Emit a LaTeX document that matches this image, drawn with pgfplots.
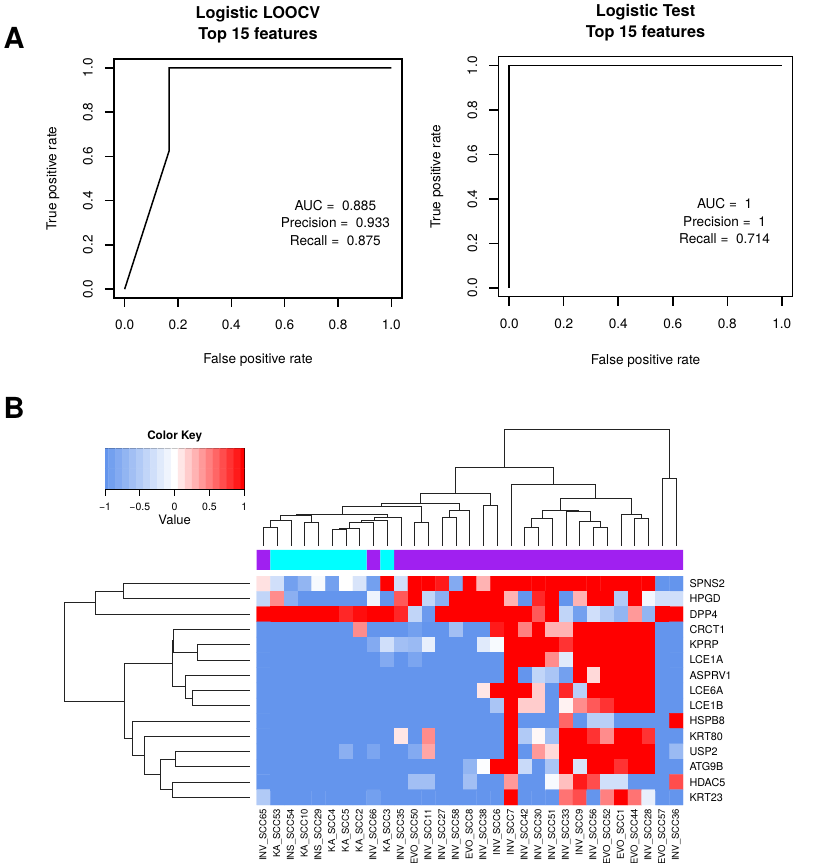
\documentclass[border=0pt]{standalone}
\usepackage{fontspec}
\setmainfont{TeX Gyre Heros}
\usepackage{pgfplots}
\pgfplotsset{compat=1.18}
\definecolor{rpurple}{RGB}{160,32,240}
\definecolor{rcyan}{RGB}{0,255,255}
\definecolor{dend}{RGB}{35,35,35}
\newcommand\fs[2]{\fontsize{#1}{#2}\selectfont}
\pgfplotsset{
  /pgf/number format/assume math mode=true,
  rocaxis/.style={
    scale only axis, anchor=south west, clip=false,
    xmin=-0.04, xmax=1.04, ymin=-0.04, ymax=1.04,
    axis line style={line width=1.5pt},
    xtick={0,0.2,0.4,0.6,0.8,1}, ytick={0,0.2,0.4,0.6,0.8,1},
    xticklabels={0.0,0.2,0.4,0.6,0.8,1.0}, yticklabels={0.0,0.2,0.4,0.6,0.8,1.0},
    xtick pos=lower, ytick pos=left, tick align=outside, major tick length=9pt,
    tick style={black, line width=1.5pt},
    tick label style={font=\fs{13.6}{16}},
    xticklabel style={anchor=center, yshift=-18pt},
    yticklabel style={rotate=90, anchor=center, yshift=17pt},
    every axis title/.style={at={(rel axis cs:0.5,1)}, anchor=center, align=center, font=\bfseries\fs{16.3}{21}},
    every axis x label/.style={at={(rel axis cs:0.5,0)}, anchor=center, font=\fs{13.6}{16}},
    every axis y label/.style={at={(rel axis cs:0,0.5)}, anchor=center, rotate=90, font=\fs{13.6}{16}},
  },
  dendro/.style={dend, line width=0.9pt},
}
\begin{document}
\begin{tikzpicture}
\useasboundingbox (0,0) rectangle (815pt,863pt);
% ---------------- Panel A left
\begin{axis}[rocaxis, at={(114pt,565pt)}, width=288pt, height=239pt,
  title={Logistic LOOCV\\Top 15 features}, title style={yshift=34pt},
  xlabel={False positive rate}, xlabel style={yshift=-62pt},
  ylabel={True positive rate}, ylabel style={yshift=61pt}]
\addplot[black, line width=1.5pt] coordinates {(0,0) (0.1667,0.625) (0.1667,1) (1,1)};
\node[align=center, font=\fs{13.6}{17.5}] at (axis cs:0.79,0.30) {AUC = \ 0.885\\Precision = \ 0.933\\Recall = \ 0.875};
\end{axis}
% ---------------- Panel A right
\begin{axis}[rocaxis, at={(498.3pt,566.3pt)}, width=294.4pt, height=240pt,
  title={Logistic Test\\Top 15 features}, title style={yshift=34pt},
  xlabel={False positive rate}, xlabel style={yshift=-64.3pt},
  ylabel={True positive rate}, ylabel style={yshift=61.3pt}]
\addplot[black, line width=1.5pt] coordinates {(0,0) (0,1) (1,1)};
\node[align=center, font=\fs{13.6}{17.5}] at (axis cs:0.79,0.30) {AUC = \ 1\\Precision = \ 1\\Recall = \ 0.714};
\end{axis}
\node[font=\bfseries\fs{29}{30}] at (14pt,825pt) {A};
\node[font=\bfseries\fs{29}{30}] at (14pt,455pt) {B};
% ---------------- Color key
\begin{axis}[scale only axis, anchor=south west, at={(105pt,374pt)}, width=139.3pt, height=40.7pt,
  xmin=-1, xmax=1, ymin=-0.5, ymax=1.5,
  colormap={bwr}{rgb255=(100,149,237) rgb255=(255,255,255) rgb255=(255,0,0)},
  point meta min=-1, point meta max=1,
  axis line style={line width=0.8pt},
  xtick={-1,-0.5,0,0.5,1}, xticklabels={−1,−0.5,0,0.5,1}, ytick=\empty,
  xtick pos=lower, tick align=outside, major tick length=6.7pt, tick style={black, line width=0.8pt},
  xticklabel style={font=\fs{10.5}{12}, anchor=center, yshift=-11pt},
  title={Color Key}, every axis title/.style={at={(rel axis cs:0.5,1)}, anchor=center, font=\bfseries\fs{11.7}{13}, yshift=11.6pt},
  xlabel={Value}, every axis x label/.style={at={(rel axis cs:0.5,0)}, anchor=center, font=\fs{13}{15}, yshift=-31pt}]
\addplot[matrix plot*, mesh/cols=21, point meta=explicit] coordinates {
(-1,0)[-1] (-0.9,0)[-0.9] (-0.8,0)[-0.8] (-0.7,0)[-0.7] (-0.6,0)[-0.6] (-0.5,0)[-0.5] (-0.4,0)[-0.4] (-0.3,0)[-0.3] (-0.2,0)[-0.2] (-0.1,0)[-0.1] (0,0)[0] (0.1,0)[0.1] (0.2,0)[0.2] (0.3,0)[0.3] (0.4,0)[0.4] (0.5,0)[0.5] (0.6,0)[0.6] (0.7,0)[0.7] (0.8,0)[0.8] (0.9,0)[0.9] (1,0)[1]

(-1,1)[-1] (-0.9,1)[-0.9] (-0.8,1)[-0.8] (-0.7,1)[-0.7] (-0.6,1)[-0.6] (-0.5,1)[-0.5] (-0.4,1)[-0.4] (-0.3,1)[-0.3] (-0.2,1)[-0.2] (-0.1,1)[-0.1] (0,1)[0] (0.1,1)[0.1] (0.2,1)[0.2] (0.3,1)[0.3] (0.4,1)[0.4] (0.5,1)[0.5] (0.6,1)[0.6] (0.7,1)[0.7] (0.8,1)[0.8] (0.9,1)[0.9] (1,1)[1]
};
\end{axis}
% ---------------- Column dendrogram
\begin{axis}[scale only axis, anchor=south west, at={(256.7pt,317pt)}, width=426.3pt, height=117pt,
  xmin=0.5, xmax=31.5, ymin=0, ymax=117, hide axis, clip=false]
\addplot[dendro] coordinates {(1,0) (1,18.3) (2,18.3) (2,0)};
\addplot[dendro] coordinates {(1.5,18.3) (1.5,25.3) (3,25.3) (3,0)};
\addplot[dendro] coordinates {(4,0) (4,23.7) (5,23.7) (5,0)};
\addplot[dendro] coordinates {(2.25,25.3) (2.25,30.3) (4.5,30.3) (4.5,23.7)};
\addplot[dendro] coordinates {(6,0) (6,16.7) (7,16.7) (7,0)};
\addplot[dendro] coordinates {(6.5,16.7) (6.5,18) (8,18) (8,0)};
\addplot[dendro] coordinates {(7.25,18) (7.25,23.7) (9,23.7) (9,0)};
\addplot[dendro] coordinates {(8.125,23.7) (8.125,25.3) (10,25.3) (10,0)};
\addplot[dendro] coordinates {(9.0625,25.3) (9.0625,28.7) (11,28.7) (11,0)};
\addplot[dendro] coordinates {(3.375,30.3) (3.375,32) (10.03125,32) (10.03125,28.7)};
\addplot[dendro] coordinates {(12,0) (12,23.7) (13,23.7) (13,0)};
\addplot[dendro] coordinates {(6.703125,32) (6.703125,39.5) (12.5,39.5) (12.5,23.7)};
\addplot[dendro] coordinates {(14,0) (14,28.7) (15,28.7) (15,0)};
\addplot[dendro] coordinates {(14.5,28.7) (14.5,36) (16,36) (16,0)};
\addplot[dendro] coordinates {(9.6015625,39.5) (9.6015625,43) (15.25,43) (15.25,36)};
\addplot[dendro] coordinates {(17,0) (17,40.7) (18,40.7) (18,0)};
\addplot[dendro] coordinates {(12.42578,43) (12.42578,52.5) (17.5,52.5) (17.5,40.7)};
\addplot[dendro] coordinates {(20,0) (20,18.3) (21,18.3) (21,0)};
\addplot[dendro] coordinates {(20.5,18.3) (20.5,27.7) (22,27.7) (22,0)};
\addplot[dendro] coordinates {(25,0) (25,18.3) (26,18.3) (26,0)};
\addplot[dendro] coordinates {(24,0) (24,25) (25.5,25) (25.5,18.3)};
\addplot[dendro] coordinates {(23,0) (23,35) (24.75,35) (24.75,25)};
\addplot[dendro] coordinates {(21.25,27.7) (21.25,36) (23.875,36) (23.875,35)};
\addplot[dendro] coordinates {(28,0) (28,27.7) (29,27.7) (29,0)};
\addplot[dendro] coordinates {(27,0) (27,32) (28.5,32) (28.5,27.7)};
\addplot[dendro] coordinates {(22.5625,36) (22.5625,47.7) (27.75,47.7) (27.75,32)};
\addplot[dendro] coordinates {(19,0) (19,61.7) (25.15625,61.7) (25.15625,47.7)};
\addplot[dendro] coordinates {(14.96289,52.5) (14.96289,78.7) (22.078125,78.7) (22.078125,61.7)};
\addplot[dendro] coordinates {(30,0) (30,67.7) (31,67.7) (31,0)};
\addplot[dendro] coordinates {(18.52051,78.7) (18.52051,117) (30.5,117) (30.5,67.7)};
\end{axis}
% ---------------- Row dendrogram
\begin{axis}[scale only axis, anchor=south west, at={(64pt,58pt)}, width=186pt, height=229pt,
  xmin=0, xmax=186, x dir=reverse, ymin=0.5, ymax=15.5, y dir=reverse, hide axis, clip=false]
\addplot[dendro] coordinates {(0,1) (127,1) (127,2) (0,2)};
\addplot[dendro] coordinates {(127,1.5) (154.3,1.5) (154.3,3) (0,3)};
\addplot[dendro] coordinates {(0,5) (53,5) (53,6) (0,6)};
\addplot[dendro] coordinates {(0,4) (76.7,4) (76.7,5.5) (53,5.5)};
\addplot[dendro] coordinates {(0,8) (57.3,8) (57.3,9) (0,9)};
\addplot[dendro] coordinates {(0,7) (64.7,7) (64.7,8.5) (57.3,8.5)};
\addplot[dendro] coordinates {(76.7,4.75) (77.7,4.75) (77.7,7.75) (64.7,7.75)};
\addplot[dendro] coordinates {(0,12) (75,12) (75,13) (0,13)};
\addplot[dendro] coordinates {(0,14) (78,14) (78,15) (0,15)};
\addplot[dendro] coordinates {(75,12.5) (90,12.5) (90,14.5) (78,14.5)};
\addplot[dendro] coordinates {(0,11) (106,11) (106,13.5) (90,13.5)};
\addplot[dendro] coordinates {(0,10) (117.3,10) (117.3,12.25) (106,12.25)};
\addplot[dendro] coordinates {(77.7,6.25) (125.3,6.25) (125.3,11.125) (117.3,11.125)};
\addplot[dendro] coordinates {(154.3,2.25) (186,2.25) (186,8.6875) (125.3,8.6875)};
\end{axis}
% ---------------- Side colour bar
\begin{axis}[scale only axis, anchor=south west, at={(256.7pt,293pt)}, width=426.3pt, height=20pt,
  xmin=0.5, xmax=31.5, ymin=0, ymax=1, hide axis]
\addplot[ybar, bar width=1, bar shift=0pt, fill=rpurple, draw=none] coordinates {(1,1) (9,1) (11,1) (12,1) (13,1) (14,1) (15,1) (16,1) (17,1) (18,1) (19,1) (20,1) (21,1) (22,1) (23,1) (24,1) (25,1) (26,1) (27,1) (28,1) (29,1) (30,1) (31,1)};
\addplot[ybar, bar width=1, bar shift=0pt, fill=rcyan, draw=none] coordinates {(2,1) (3,1) (4,1) (5,1) (6,1) (7,1) (8,1) (10,1)};
\end{axis}
% ---------------- Heatmap
\begin{axis}[scale only axis, anchor=south west, at={(256.7pt,58pt)}, width=426.3pt, height=229pt,
  xmin=0.5, xmax=31.5, ymin=0.5, ymax=15.5, y dir=reverse,
  colormap={bwr}{rgb255=(100,149,237) rgb255=(255,255,255) rgb255=(255,0,0)},
  point meta min=-1, point meta max=1,
  axis line style={draw=none}, major tick length=0pt, tick style={draw=none},
  xtick={1,...,31}, ytick={1,...,15}, yticklabel pos=right,
  xticklabels={INV\_SCC65,KA\_SCC53,INS\_SCC54,KA\_SCC10,INS\_SCC29,KA\_SCC4,KA\_SCC5,KA\_SCC2,INV\_SCC66,KA\_SCC3,INV\_SCC35,EVO\_SCC50,INV\_SCC11,INV\_SCC27,INV\_SCC58,EVO\_SCC8,INV\_SCC38,INV\_SCC6,INV\_SCC7,INV\_SCC42,INV\_SCC30,INV\_SCC51,INV\_SCC33,INV\_SCC9,INV\_SCC56,EVO\_SCC52,EVO\_SCC1,EVO\_SCC44,INV\_SCC28,EVO\_SCC57,INV\_SCC36},
  yticklabels={SPNS2,HPGD,DPP4,CRCT1,KPRP,LCE1A,ASPRV1,LCE6A,LCE1B,HSPB8,KRT80,USP2,ATG9B,HDAC5,KRT23},
  xticklabel style={rotate=90, anchor=east, font=\fs{9.5}{10}, xshift=-0.5pt},
  yticklabel style={anchor=west, font=\fs{10.8}{12}, xshift=3pt}]
\addplot[matrix plot*, mesh/cols=31, point meta=explicit] coordinates {
(1,1)[0.12] (2,1)[-0.3] (3,1)[-0.9] (4,1)[-0.7] (5,1)[-0.05] (6,1)[-0.9] (7,1)[0] (8,1)[-0.25] (9,1)[-0.9] (10,1)[1] (11,1)[-0.3] (12,1)[1] (13,1)[1] (14,1)[0.9] (15,1)[-0.8] (16,1)[1] (17,1)[0.3] (18,1)[1] (19,1)[1] (20,1)[1] (21,1)[1] (22,1)[1] (23,1)[1] (24,1)[1] (25,1)[1] (26,1)[1] (27,1)[1] (28,1)[1] (29,1)[1] (30,1)[-1] (31,1)[-1]

(1,2)[-0.4] (2,2)[0.45] (3,2)[-0.75] (4,2)[-1] (5,2)[-1] (6,2)[-1] (7,2)[-1] (8,2)[-1] (9,2)[-0.1] (10,2)[-1] (11,2)[0.65] (12,2)[1] (13,2)[-0.4] (14,2)[-0.75] (15,2)[1] (16,2)[1] (17,2)[1] (18,2)[1] (19,2)[0.3] (20,2)[-1] (21,2)[0.85] (22,2)[1] (23,2)[-1] (24,2)[0.3] (25,2)[1] (26,2)[1] (27,2)[-0.5] (28,2)[1] (29,2)[-0.08] (30,2)[-0.3] (31,2)[-0.3]

(1,3)[1] (2,3)[1] (3,3)[1] (4,3)[1] (5,3)[1] (6,3)[1] (7,3)[0.85] (8,3)[0.95] (9,3)[1] (10,3)[1] (11,3)[0.85] (12,3)[-0.4] (13,3)[-0.95] (14,3)[1] (15,3)[1] (16,3)[1] (17,3)[1] (18,3)[1] (19,3)[1] (20,3)[1] (21,3)[0.65] (22,3)[1] (23,3)[-0.4] (24,3)[-0.9] (25,3)[-0.3] (26,3)[-0.5] (27,3)[-0.7] (28,3)[0.4] (29,3)[-0.7] (30,3)[1] (31,3)[1]

(1,4)[-1] (2,4)[-1] (3,4)[-1] (4,4)[-1] (5,4)[-1] (6,4)[-1] (7,4)[-1] (8,4)[0.45] (9,4)[-1] (10,4)[-1] (11,4)[-1] (12,4)[-0.9] (13,4)[-1] (14,4)[-1] (15,4)[-0.6] (16,4)[-1] (17,4)[-1] (18,4)[0.9] (19,4)[1] (20,4)[0.5] (21,4)[1] (22,4)[0.3] (23,4)[0.3] (24,4)[1] (25,4)[1] (26,4)[1] (27,4)[1] (28,4)[1] (29,4)[1] (30,4)[-1] (31,4)[-1]

(1,5)[-1] (2,5)[-1] (3,5)[-1] (4,5)[-1] (5,5)[-1] (6,5)[-1] (7,5)[-1] (8,5)[-1] (9,5)[-0.8] (10,5)[-0.3] (11,5)[-0.6] (12,5)[-0.65] (13,5)[-0.15] (14,5)[-1] (15,5)[-1] (16,5)[-1] (17,5)[-0.2] (18,5)[-0.05] (19,5)[1] (20,5)[1] (21,5)[1] (22,5)[1] (23,5)[0.8] (24,5)[1] (25,5)[1] (26,5)[1] (27,5)[1] (28,5)[1] (29,5)[1] (30,5)[-1] (31,5)[-1]

(1,6)[-1] (2,6)[-1] (3,6)[-1] (4,6)[-1] (5,6)[-1] (6,6)[-1] (7,6)[-1] (8,6)[-1] (9,6)[-1] (10,6)[-0.8] (11,6)[-1] (12,6)[-0.85] (13,6)[-1] (14,6)[-1] (15,6)[-1] (16,6)[-1] (17,6)[-1] (18,6)[-1] (19,6)[1] (20,6)[1] (21,6)[1] (22,6)[0.45] (23,6)[-0.2] (24,6)[1] (25,6)[1] (26,6)[1] (27,6)[1] (28,6)[1] (29,6)[1] (30,6)[-1] (31,6)[-1]

(1,7)[-1] (2,7)[-1] (3,7)[-1] (4,7)[-1] (5,7)[-1] (6,7)[-1] (7,7)[-1] (8,7)[-1] (9,7)[-1] (10,7)[-1] (11,7)[-1] (12,7)[-1] (13,7)[-1] (14,7)[-1] (15,7)[-1] (16,7)[-1] (17,7)[-1] (18,7)[-1] (19,7)[1] (20,7)[-1] (21,7)[-0.4] (22,7)[-0.55] (23,7)[-0.9] (24,7)[1] (25,7)[0.15] (26,7)[1] (27,7)[1] (28,7)[1] (29,7)[1] (30,7)[-1] (31,7)[-1]

(1,8)[-1] (2,8)[-1] (3,8)[-1] (4,8)[-1] (5,8)[-1] (6,8)[-1] (7,8)[-1] (8,8)[-1] (9,8)[-1] (10,8)[-1] (11,8)[-1] (12,8)[-1] (13,8)[-1] (14,8)[-1] (15,8)[-1] (16,8)[-1] (17,8)[0.1] (18,8)[1] (19,8)[1] (20,8)[1] (21,8)[0.2] (22,8)[-1] (23,8)[0.85] (24,8)[-0.45] (25,8)[1] (26,8)[1] (27,8)[1] (28,8)[1] (29,8)[1] (30,8)[-1] (31,8)[-1]

(1,9)[-1] (2,9)[-1] (3,9)[-1] (4,9)[-1] (5,9)[-1] (6,9)[-1] (7,9)[-1] (8,9)[-1] (9,9)[-1] (10,9)[-1] (11,9)[-1] (12,9)[-1] (13,9)[-1] (14,9)[-1] (15,9)[-1] (16,9)[-1] (17,9)[-1] (18,9)[-0.55] (19,9)[1] (20,9)[0.2] (21,9)[0.2] (22,9)[-1] (23,9)[0.05] (24,9)[0.45] (25,9)[0.65] (26,9)[0.8] (27,9)[1] (28,9)[1] (29,9)[1] (30,9)[-1] (31,9)[-1]

(1,10)[-1] (2,10)[-1] (3,10)[-1] (4,10)[-1] (5,10)[-1] (6,10)[-1] (7,10)[-1] (8,10)[-1] (9,10)[-1] (10,10)[-1] (11,10)[-1] (12,10)[-1] (13,10)[-1] (14,10)[-1] (15,10)[-1] (16,10)[-1] (17,10)[-1] (18,10)[-1] (19,10)[1] (20,10)[-1] (21,10)[-1] (22,10)[-1] (23,10)[0.6] (24,10)[-1] (25,10)[-0.45] (26,10)[-0.45] (27,10)[-1] (28,10)[-1] (29,10)[-1] (30,10)[-1] (31,10)[1]

(1,11)[-1] (2,11)[-1] (3,11)[-1] (4,11)[-1] (5,11)[-1] (6,11)[-1] (7,11)[-1] (8,11)[-1] (9,11)[-1] (10,11)[-1] (11,11)[0.1] (12,11)[-1] (13,11)[0.45] (14,11)[-1] (15,11)[-1] (16,11)[-1] (17,11)[-1] (18,11)[-1] (19,11)[1] (20,11)[-0.5] (21,11)[0.03] (22,11)[-0.6] (23,11)[1] (24,11)[1] (25,11)[0.8] (26,11)[0.45] (27,11)[1] (28,11)[1] (29,11)[0.8] (30,11)[-1] (31,11)[-1]

(1,12)[-1] (2,12)[-1] (3,12)[-1] (4,12)[-1] (5,12)[-1] (6,12)[-1] (7,12)[-0.75] (8,12)[-1] (9,12)[-0.85] (10,12)[-1] (11,12)[-1] (12,12)[-0.8] (13,12)[0.35] (14,12)[-1] (15,12)[-1] (16,12)[-1] (17,12)[-1] (18,12)[-1] (19,12)[1] (20,12)[-1] (21,12)[0.4] (22,12)[0.15] (23,12)[1] (24,12)[1] (25,12)[1] (26,12)[1] (27,12)[1] (28,12)[1] (29,12)[1] (30,12)[-1] (31,12)[-0.65]

(1,13)[-1] (2,13)[-1] (3,13)[-1] (4,13)[-1] (5,13)[-1] (6,13)[-1] (7,13)[-1] (8,13)[-1] (9,13)[-1] (10,13)[-1] (11,13)[-1] (12,13)[-1] (13,13)[-1] (14,13)[-1] (15,13)[-1] (16,13)[-0.7] (17,13)[-0.02] (18,13)[1] (19,13)[1] (20,13)[-0.35] (21,13)[-1] (22,13)[-0.55] (23,13)[1] (24,13)[-0.25] (25,13)[1] (26,13)[1] (27,13)[0.8] (28,13)[1] (29,13)[1] (30,13)[-1] (31,13)[-1]

(1,14)[-1] (2,14)[-1] (3,14)[-1] (4,14)[-1] (5,14)[-1] (6,14)[-1] (7,14)[-1] (8,14)[-1] (9,14)[-1] (10,14)[-1] (11,14)[-1] (12,14)[-0.6] (13,14)[-0.6] (14,14)[-1] (15,14)[-1] (16,14)[-0.6] (17,14)[-1] (18,14)[-1] (19,14)[0.4] (20,14)[-1] (21,14)[-1] (22,14)[-0.05] (23,14)[0.25] (24,14)[0.9] (25,14)[0.7] (26,14)[-0.3] (27,14)[-0.3] (28,14)[-1] (29,14)[-1] (30,14)[-1] (31,14)[0.7]

(1,15)[-0.5] (2,15)[-1] (3,15)[-1] (4,15)[-1] (5,15)[-1] (6,15)[-1] (7,15)[-1] (8,15)[-1] (9,15)[-0.9] (10,15)[-1] (11,15)[-1] (12,15)[-1] (13,15)[-1] (14,15)[-1] (15,15)[-1] (16,15)[-1] (17,15)[-1] (18,15)[-1] (19,15)[1] (20,15)[-1] (21,15)[-1] (22,15)[-1] (23,15)[0.55] (24,15)[0.7] (25,15)[-1] (26,15)[0.5] (27,15)[1] (28,15)[0.55] (29,15)[-0.15] (30,15)[-1] (31,15)[-1]
};
\end{axis}
\end{tikzpicture}
\end{document}
